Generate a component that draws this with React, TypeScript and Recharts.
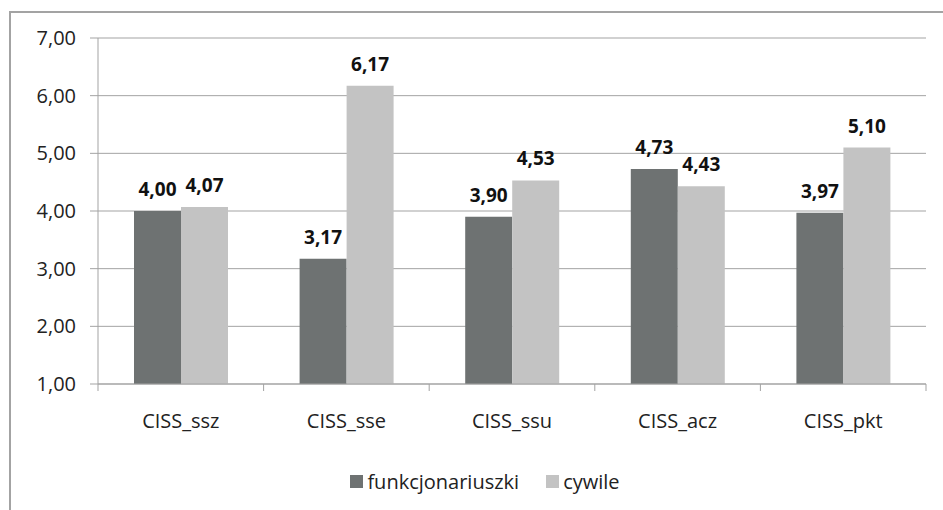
import {
  BarChart,
  Bar,
  XAxis,
  YAxis,
  CartesianGrid,
  Legend,
  LabelList,
} from "recharts";

const categories = ["CISS_ssz", "CISS_sse", "CISS_ssu", "CISS_acz", "CISS_pkt"];
const funkcjonariuszki = [4.0, 3.17, 3.9, 4.73, 3.97];
const cywile = [4.07, 6.17, 4.53, 4.43, 5.1];
const yTicks = [1, 2, 3, 4, 5, 6, 7];

const seriesNames = ["funkcjonariuszki", "cywile"];
const seriesColors = ["#6e7272", "#c3c3c3"];

const LINE = "#a3a3a3";
const FONT = "'Open Sans', sans-serif";

const data = categories.map((c, i) => ({
  name: c,
  funkcjonariuszki: funkcjonariuszki[i],
  cywile: cywile[i],
}));

const fmt = (v: number) => v.toFixed(2).replace(".", ",");

const CategoryTick = (props: any) => {
  const { x, y, payload, index, visibleTicksCount } = props;
  const off = payload?.offset ?? 0;
  const last = index === (visibleTicksCount ?? categories.length) - 1;
  return (
    <g>
      <line x1={x - off} y1={y} x2={x - off} y2={y + 7} stroke={LINE} strokeWidth={1} />
      {last && (
        <line x1={x + off} y1={y} x2={x + off} y2={y + 7} stroke={LINE} strokeWidth={1} />
      )}
      <text
        x={x}
        y={y + 44}
        textAnchor="middle"
        fill="#222"
        fontSize={20}
        fontFamily={FONT}
      >
        {payload.value}
      </text>
    </g>
  );
};

const LegendContent = () => (
  <div
    style={{
      height: 30,
      display: "flex",
      alignItems: "center",
      justifyContent: "center",
      paddingLeft: 44,
      fontFamily: FONT,
      fontSize: 20,
      color: "#222",
    }}
  >
    {seriesNames.map((n, i) => (
      <div
        key={n}
        style={{ display: "flex", alignItems: "center", marginRight: i === 0 ? 27 : 0 }}
      >
        <span
          style={{
            display: "inline-block",
            width: 13,
            height: 13,
            background: seriesColors[i],
            marginRight: 4,
          }}
        />
        <span>{n}</span>
      </div>
    ))}
  </div>
);

export default function App() {
  return (
    <div
      style={{
        position: "fixed",
        left: 0,
        top: 0,
        width: 943,
        height: 510,
        overflow: "hidden",
        background: "#fff",
        fontFamily: FONT,
      }}
    >
      {/* chart area frame, cut off on the right and bottom */}
      <div
        style={{
          position: "absolute",
          left: 9,
          top: 11,
          width: 960,
          height: 530,
          border: `2px solid ${LINE}`,
        }}
      />
      <div style={{ position: "absolute", left: 0, top: 0 }}>
        <BarChart
          width={943}
          height={510}
          data={data}
          margin={{ top: 38, right: 17, left: 0, bottom: 14 }}
          barCategoryGap={36}
          barGap={0}
        >
          <CartesianGrid vertical={false} stroke={LINE} strokeWidth={1} />
          <XAxis
            dataKey="name"
            height={82}
            tickSize={0}
            tickMargin={0}
            axisLine={{ stroke: LINE }}
            tickLine={false}
            tick={<CategoryTick />}
            interval={0}
          />
          <YAxis
            width={98}
            domain={[1, 7]}
            ticks={yTicks}
            tickFormatter={fmt}
            tickSize={8}
            tickMargin={14}
            axisLine={{ stroke: LINE }}
            tickLine={{ stroke: LINE }}
            tick={{ fill: "#222", fontSize: 20, fontFamily: FONT }}
            interval={0}
          />
          <Legend verticalAlign="bottom" content={<LegendContent />} />
          {seriesNames.map((n, i) => (
            <Bar key={n} dataKey={n} fill={seriesColors[i]} isAnimationActive={false}>
              <LabelList
                dataKey={n}
                position="top"
                offset={15}
                formatter={(v: any) => fmt(Number(v))}
                style={{
                  fill: "#111",
                  fontSize: 19,
                  fontWeight: 700,
                  fontFamily: FONT,
                }}
              />
            </Bar>
          ))}
        </BarChart>
      </div>
    </div>
  );
}
